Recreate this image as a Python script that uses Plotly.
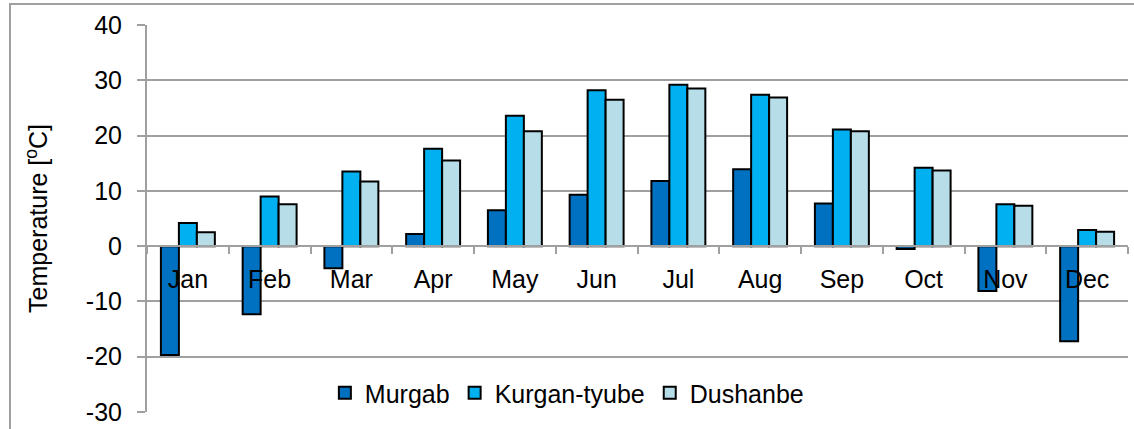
import plotly.graph_objects as go

months = ['Jan', 'Feb', 'Mar', 'Apr', 'May', 'Jun', 'Jul', 'Aug', 'Sep', 'Oct', 'Nov', 'Dec']
murgab = [-19.7, -12.3, -4.0, 2.2, 6.5, 9.3, 11.8, 13.9, 7.7, -0.5, -8.1, -17.2]
kurgan_tyube = [4.2, 9.0, 13.5, 17.6, 23.6, 28.2, 29.2, 27.4, 21.1, 14.2, 7.6, 2.9]
dushanbe = [2.5, 7.6, 11.7, 15.5, 20.8, 26.5, 28.5, 26.9, 20.8, 13.7, 7.3, 2.6]

y_ticks = [-30, -20, -10, 0, 10, 20, 30, 40]
y_ticktext = ['-30', '-20', '-10', '0', '10', '20', '30', '40']

series = [
    ('Murgab', murgab, '#0070C0'),
    ('Kurgan-tyube', kurgan_tyube, '#00B0F0'),
    ('Dushanbe', dushanbe, '#B7DEE8'),
]

fig = go.Figure()
for name, vals, col in series:
    fig.add_trace(go.Bar(x=months, y=vals, name=name,
                         marker=dict(color=col, line=dict(color='black', width=2))))

ymin, ymax = -30, 40
font = 'Liberation Sans, Arial, sans-serif'
grey = '#a0a0a0'

fig.update_layout(
    width=1134, height=429,
    margin=dict(l=147, r=6, t=25, b=17),
    plot_bgcolor='white', paper_bgcolor='white',
    font=dict(family=font, size=25, color='black'),
    barmode='group', bargap=0.34, bargroupgap=0,
    showlegend=True,
    legend=dict(orientation='h', x=0.428, xanchor='center', y=0.049, yanchor='middle',
                font=dict(size=25), bgcolor='rgba(0,0,0,0)', itemwidth=30,
                traceorder='normal'),
    xaxis=dict(
        anchor='free', position=(0 - ymin) / (ymax - ymin),
        showline=True, linecolor=grey, linewidth=2,
        ticks='outside', ticklen=7, tickcolor=grey, tickwidth=2,
        tickson='boundaries', ticklabelstandoff=11,
        showgrid=False, tickfont=dict(size=25),
    ),
    yaxis=dict(
        range=[ymin, ymax], tickvals=y_ticks, ticktext=y_ticktext,
        showgrid=True, gridcolor=grey, gridwidth=2, zeroline=False,
        showline=True, linecolor=grey, linewidth=2,
        ticks='outside', ticklen=8, tickcolor=grey, tickwidth=2,
        tickfont=dict(size=25), ticklabelstandoff=10,
        title=dict(text='Temperature [<sup>o</sup>C]', font=dict(size=25), standoff=31),
        automargin=False,
    ),
)

# outer chart frame
fig.add_shape(type='rect', xref='paper', yref='paper',
              x0=(10 - 147) / 981, x1=1.02, y0=-0.2, y1=1 + 21 / 387,
              line=dict(color=grey, width=2), layer='below')

fig.write_html('out.html', config={'displayModeBar': False},
               post_script="document.body.style.margin='0';")
